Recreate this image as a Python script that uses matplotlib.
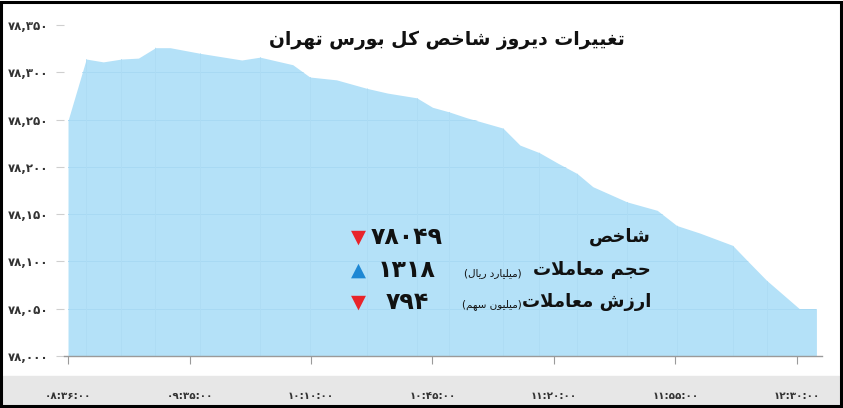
import matplotlib
matplotlib.use("Agg")
import matplotlib.pyplot as plt
from matplotlib.patches import Rectangle

# ---- data ----
tick_labels = ["۰۸:۳۶:۰۰", "۰۹:۳۵:۰۰", "۱۰:۱۰:۰۰", "۱۰:۴۵:۰۰",
               "۱۱:۲۰:۰۰", "۱۱:۵۵:۰۰", "۱۲:۳۰:۰۰"]
# position along the axis in units of tick spacing
pos = [0.0, 0.15, 0.29, 0.44, 0.58, 0.72, 0.84, 1.09, 1.43, 1.58, 1.85,
       1.99, 2.21, 2.46, 2.63, 2.87, 3.00, 3.14, 3.28, 3.58, 3.72, 3.88,
       4.03, 4.19, 4.32, 4.60, 4.85, 5.01, 5.20, 5.47, 5.59, 5.75, 6.02, 6.16]
index_vals = [78249, 78314, 78311, 78314, 78315, 78326, 78326, 78320, 78313,
              78316, 78308, 78295, 78292, 78283, 78278, 78273, 78263, 78258,
              78252, 78241, 78223, 78215, 78204, 78193, 78179, 78163, 78154,
              78138, 78130, 78117, 78101, 78080, 78050, 78050]
y_ticks = [78000, 78050, 78100, 78150, 78200, 78250, 78300, 78350]
y_tick_labels = ["۷۸,۰۰۰", "۷۸,۰۵۰", "۷۸,۱۰۰", "۷۸,۱۵۰", "۷۸,۲۰۰",
                 "۷۸,۲۵۰", "۷۸,۳۰۰", "۷۸,۳۵۰"]

title = "تغییرات دیروز شاخص کل بورس تهران"
row_labels = ["شاخص", "حجم معاملات", "ارزش معاملات"]
row_units = ["", "(میلیارد ریال)", "(میلیون سهم)"]
row_values = ["۷۸۰۴۹", "۱۳۱۸", "۷۹۴"]
row_up = [False, True, False]

# ---- tiny persian shaper (matplotlib has no bidi / joining) ----
def _r(a, b=None):
    return tuple(range(a, (b or a) + 1))

FORMS = {
    'ا': _r(0xFE8D, 0xFE8E), 'آ': _r(0xFE81, 0xFE82),
    'ب': _r(0xFE8F, 0xFE92), 'پ': _r(0xFB56, 0xFB59),
    'ت': _r(0xFE95, 0xFE98), 'ث': _r(0xFE99, 0xFE9C),
    'ج': _r(0xFE9D, 0xFEA0), 'چ': _r(0xFB7A, 0xFB7D),
    'ح': _r(0xFEA1, 0xFEA4), 'خ': _r(0xFEA5, 0xFEA8),
    'د': _r(0xFEA9, 0xFEAA), 'ذ': _r(0xFEAB, 0xFEAC),
    'ر': _r(0xFEAD, 0xFEAE), 'ز': _r(0xFEAF, 0xFEB0),
    'ژ': _r(0xFB8A, 0xFB8B), 'س': _r(0xFEB1, 0xFEB4),
    'ش': _r(0xFEB5, 0xFEB8), 'ص': _r(0xFEB9, 0xFEBC),
    'ض': _r(0xFEBD, 0xFEC0), 'ط': _r(0xFEC1, 0xFEC4),
    'ظ': _r(0xFEC5, 0xFEC8), 'ع': _r(0xFEC9, 0xFECC),
    'غ': _r(0xFECD, 0xFED0), 'ف': _r(0xFED1, 0xFED4),
    'ق': _r(0xFED5, 0xFED8), 'ک': _r(0xFB8E, 0xFB91),
    'گ': _r(0xFB92, 0xFB95), 'ل': _r(0xFEDD, 0xFEE0),
    'م': _r(0xFEE1, 0xFEE4), 'ن': _r(0xFEE5, 0xFEE8),
    'ه': _r(0xFEE9, 0xFEEC), 'و': _r(0xFEED, 0xFEEE),
    'ی': _r(0xFBFC, 0xFBFF),
}


def fa(s):
    out = []
    i = 0
    while i < len(s):
        c = s[i]
        if c not in FORMS:
            out.append({'(': ')', ')': '('}.get(c, c))
            i += 1
            continue
        prev = s[i - 1] if i > 0 else ''
        join_prev = prev in FORMS and len(FORMS[prev]) == 4
        if c == 'ل' and i + 1 < len(s) and s[i + 1] in 'اآ':
            lig = (0xFEFB, 0xFEFC) if s[i + 1] == 'ا' else (0xFEF5, 0xFEF6)
            out.append(chr(lig[1] if join_prev else lig[0]))
            i += 2
            continue
        nxt = s[i + 1] if i + 1 < len(s) else ''
        f = FORMS[c]
        join_next = len(f) == 4 and nxt in FORMS
        if join_prev and join_next:
            k = 3
        elif join_prev:
            k = 1
        elif join_next:
            k = 2
        else:
            k = 0
        out.append(chr(f[k]))
        i += 1
    return ''.join(reversed(out))


W, H = 843, 408
plt.rcParams['font.family'] = ['DejaVu Sans']
fig = plt.figure(figsize=(W / 100, H / 100), dpi=100)


def fx(px):
    return px / W


def fy(py):
    return 1 - py / H


# grey band behind x labels and black frame
fig.patches.append(Rectangle((fx(3), fy(405)), fx(836), (405 - 376) / H,
                             transform=fig.transFigure, color='#e7e7e7',
                             zorder=-5))
fig.patches.append(Rectangle((fx(1), fy(406)), fx(840), 404 / H, fill=False,
                             transform=fig.transFigure, edgecolor='black',
                             lw=2.2, zorder=-4))

ax = fig.add_axes([fx(64), fy(356), fx(822 - 64), (356 - 25) / H])
ax.set_facecolor('none')
ax.set_zorder(2)
poly = ax.fill_between(pos, index_vals, 78000, color='#b4e1f8', lw=0, zorder=1)
clip = poly.get_paths()[0]

# faint grid only visible inside the area
for y in y_ticks[1:-1]:
    ln, = ax.plot([-1, 7], [y, y], color='#a8d9f3', lw=0.7, zorder=2)
    ln.set_clip_path(clip, ax.transData)
for x in pos[1:-1:2]:
    ln, = ax.plot([x, x], [78000, 78400], color='#aedcf4', lw=0.6, zorder=2)
    ln.set_clip_path(clip, ax.transData)

ax.set_xlim(-0.033, 6.206)
ax.set_ylim(78000, 78350)
for s in ['top', 'right', 'left']:
    ax.spines[s].set_visible(False)
ax.spines['bottom'].set_color('#9a9a9a')
ax.spines['bottom'].set_linewidth(1.0)

ax.set_xticks(range(len(tick_labels)))
ax.set_xticklabels(tick_labels, fontsize=7.5, color='#333333',
                   fontweight='bold')
ax.tick_params(axis='x', length=6, color='#9a9a9a', pad=19)
ax.set_yticks(y_ticks)
ax.set_yticklabels(y_tick_labels, fontsize=8.5, color='#333333',
                   fontweight='bold')
ax.tick_params(axis='y', length=6, color='#cfcfcf', pad=5)

fig.text(fx(447), fy(40), fa(title), fontsize=13.5, fontweight='bold',
         ha='center', va='center', color='#111111')

rows_y = [237, 270, 302]
for lab, unit, val, up, yy in zip(row_labels, row_units, row_values, row_up, rows_y):
    fig.text(fx(651), fy(yy), fa(lab), fontsize=13, fontweight='bold',
             ha='right', va='center', color='#111111')
    if unit:
        fig.text(fx(522), fy(yy + 3), fa(unit), fontsize=7.5, ha='right',
                 va='center', color='#111111')
    fig.text(fx(407), fy(yy), val, fontsize=17, fontweight='bold',
             ha='center', va='center', color='#111111')
    fig.text(fx(358), fy(yy), '▲' if up else '▼', fontsize=14, ha='center',
             va='center', color='#1e88d4' if up else '#e8242a')

fig.savefig('out.png', dpi=100)
